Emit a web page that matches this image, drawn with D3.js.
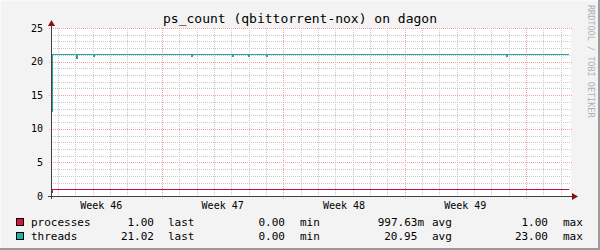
<!DOCTYPE html>
<html>
<head>
<meta charset="utf-8">
<script src="https://cdn.jsdelivr.net/npm/d3@7"></script>
<style>
  body { margin: 0; background: #f3f3f3; }
  svg { display: block; font-family: "DejaVu Sans Mono", monospace; }
</style>
</head>
<body>
<svg id="chart"></svg>
<script>
const width = 600;
const height = 250;

// data (days since the start of the window)
const startTime = Date.UTC(2023, 10, 13, 14, 18);
const spanDays = 30;
const threadDays   = [0, 0.06, 1.47, 1.55, 2.44, 2.5, 8.12, 8.18, 10.47, 10.53, 11.42, 11.48, 12.45, 12.51, 26.25, 26.31, 29.89];
const threadValues = [12.6, 21, 20.4, 21, 20.8, 21, 20.8, 21, 20.7, 21, 20.7, 21, 20.7, 21, 20.7, 21, 21];
const processDays   = [0, 0.06, 29.89];
const processValues = [0.5, 1, 1];

const seriesNames  = ["processes", "threads"];
const seriesColors = ["#dc143c", "#20b2aa"];
const lineColors   = ["#c8143c", "#28a59c"];
const lastVals = ["1.00", "21.02"];
const minVals  = ["0.00", "0.00"];
const avgVals  = ["997.63m", "20.95"];
const maxVals  = ["1.00", "23.00"];
const yTicks = [0, 5, 10, 15, 20, 25];

const day = 86400000;
const toDate = d => new Date(startTime + d * day);

const plotLeft = 51, plotRight = 571, plotTop = 28, plotBottom = 196;

const x = d3.scaleUtc()
    .domain([toDate(0), toDate(spanDays)])
    .range([plotLeft, plotRight]);

const y = d3.scaleLinear()
    .domain([0, 25])
    .range([plotBottom, plotTop]);

const svg = d3.select("#chart")
    .attr("width", width)
    .attr("height", height);

// frame
svg.append("rect").attr("width", width).attr("height", height).attr("fill", "#f3f3f3");
svg.append("path").attr("d", "M0,249H599V0").attr("stroke", "#9b9b9b").attr("stroke-width", 2).attr("fill", "none");
svg.append("path").attr("d", "M0,248V0H598").attr("stroke", "#fcfcfc").attr("stroke-width", 1.5).attr("fill", "none");

// canvas
svg.append("rect")
    .attr("x", plotLeft).attr("y", plotTop)
    .attr("width", plotRight - plotLeft).attr("height", plotBottom - plotTop)
    .attr("fill", "#ffffff");

const grid = svg.append("g").attr("shape-rendering", "crispEdges");

// minor vertical grid (days)
grid.selectAll(".vmin")
    .data(x.ticks(d3.utcDay.every(1)))
    .enter().append("line")
    .attr("x1", d => Math.round(x(d)) + 0.5).attr("x2", d => Math.round(x(d)) + 0.5)
    .attr("y1", plotTop).attr("y2", plotBottom)
    .attr("stroke", "#c8c8c8")
    .attr("stroke-dasharray", "1,1");

// minor horizontal grid
grid.selectAll(".hmin")
    .data(d3.range(0, 26).filter(v => v % 5 !== 0))
    .enter().append("line")
    .attr("x1", plotLeft).attr("x2", plotRight)
    .attr("y1", d => Math.round(y(d)) + 0.5).attr("y2", d => Math.round(y(d)) + 0.5)
    .attr("stroke", "#c8c8c8")
    .attr("stroke-dasharray", "1,1");

// major vertical grid (weeks)
const weekStarts = x.ticks(d3.utcMonday.every(1));
grid.selectAll(".vmaj")
    .data(weekStarts)
    .enter().append("line")
    .attr("x1", d => Math.round(x(d)) + 0.5).attr("x2", d => Math.round(x(d)) + 0.5)
    .attr("y1", plotTop).attr("y2", plotBottom + 4)
    .attr("stroke", "#f2a0a0")
    .attr("stroke-dasharray", "1,1");

// major horizontal grid
grid.selectAll(".hmaj")
    .data(yTicks)
    .enter().append("line")
    .attr("x1", plotLeft - 2).attr("x2", plotRight + 1)
    .attr("y1", d => Math.round(y(d)) + 0.5).attr("y2", d => Math.round(y(d)) + 0.5)
    .attr("stroke", "#f2a0a0")
    .attr("stroke-dasharray", "1,1");

// y labels
svg.selectAll(".ylab")
    .data(yTicks)
    .enter().append("text")
    .attr("x", 43)
    .attr("y", d => y(d) + 3.6)
    .attr("text-anchor", "end")
    .attr("font-size", "10px")
    .attr("fill", "#000")
    .text(d => d);

// week labels at the middle of each week
const weekMids = d3.utcMonday.range(d3.utcMonday.offset(toDate(0), -1), toDate(spanDays))
    .map(d => new Date(+d + 3.5 * day))
    .filter(d => x(d) > plotLeft && x(d) < plotRight);
svg.selectAll(".xlab")
    .data(weekMids)
    .enter().append("text")
    .attr("x", d => x(d))
    .attr("y", 209)
    .attr("text-anchor", "middle")
    .attr("font-size", "10px")
    .attr("fill", "#000")
    .text(d => d3.utcFormat("Week %V")(d));

// lines
const line = d3.line()
    .x(d => x(toDate(d[0])))
    .y(d => y(d[1]))
    .curve(d3.curveStepAfter);

const seriesData = [
    d3.zip(processDays, processValues),
    d3.zip(threadDays, threadValues)
];

svg.selectAll(".series")
    .data(seriesData)
    .enter().append("path")
    .attr("d", line)
    .attr("fill", "none")
    .attr("stroke", (d, i) => lineColors[i])
    .attr("stroke-width", 1)
    .attr("shape-rendering", "crispEdges");

// axes
svg.append("line")
    .attr("x1", plotLeft + 0.5).attr("x2", plotLeft + 0.5)
    .attr("y1", plotBottom + 3).attr("y2", 25)
    .attr("stroke", "#404040").attr("shape-rendering", "crispEdges");
svg.append("line")
    .attr("x1", plotLeft - 3).attr("x2", plotRight + 1)
    .attr("y1", plotBottom + 0.5).attr("y2", plotBottom + 0.5)
    .attr("stroke", "#404040").attr("shape-rendering", "crispEdges");
svg.append("path").attr("d", "M48,26L51.5,20L55,26Z").attr("fill", "#8b1010");
svg.append("path").attr("d", "M572,193L578,196.5L572,200Z").attr("fill", "#8b1010");

// title
svg.append("text")
    .attr("x", 300).attr("y", 23)
    .attr("text-anchor", "middle")
    .attr("font-size", "13px")
    .attr("fill", "#000")
    .text("ps_count (qbittorrent-nox) on dagon");

// watermark
svg.append("text")
    .attr("transform", "translate(587.5,5) rotate(90)")
    .attr("font-size", "8.5px")
    .attr("fill", "#b0b0b0")
    .text("RRDTOOL / TOBI OETIKER");

// legend
const legend = svg.selectAll(".legend")
    .data(seriesNames)
    .enter().append("g")
    .attr("transform", (d, i) => `translate(0,${225.5 + i * 14.5})`)
    .attr("font-size", "11px")
    .attr("fill", "#000");

legend.append("rect")
    .attr("x", 16.5).attr("y", -7.5)
    .attr("width", 7).attr("height", 7)
    .attr("fill", (d, i) => seriesColors[i])
    .attr("stroke", "#000")
    .attr("shape-rendering", "crispEdges");

legend.append("text").attr("x", 31).text(d => d);
legend.append("text").attr("x", 154).attr("text-anchor", "end").text((d, i) => lastVals[i]);
legend.append("text").attr("x", 168).text("last");
legend.append("text").attr("x", 285).attr("text-anchor", "end").text((d, i) => minVals[i]);
legend.append("text").attr("x", 300).text("min");
legend.append("text").attr("x", 424).attr("text-anchor", "end").text((d, i) => avgVals[i].endsWith("m") ? avgVals[i] : avgVals[i] + "\u00a0");
legend.append("text").attr("x", 432).text("avg");
legend.append("text").attr("x", 548).attr("text-anchor", "end").text((d, i) => maxVals[i]);
legend.append("text").attr("x", 563).text("max");
</script>
</body>
</html>
